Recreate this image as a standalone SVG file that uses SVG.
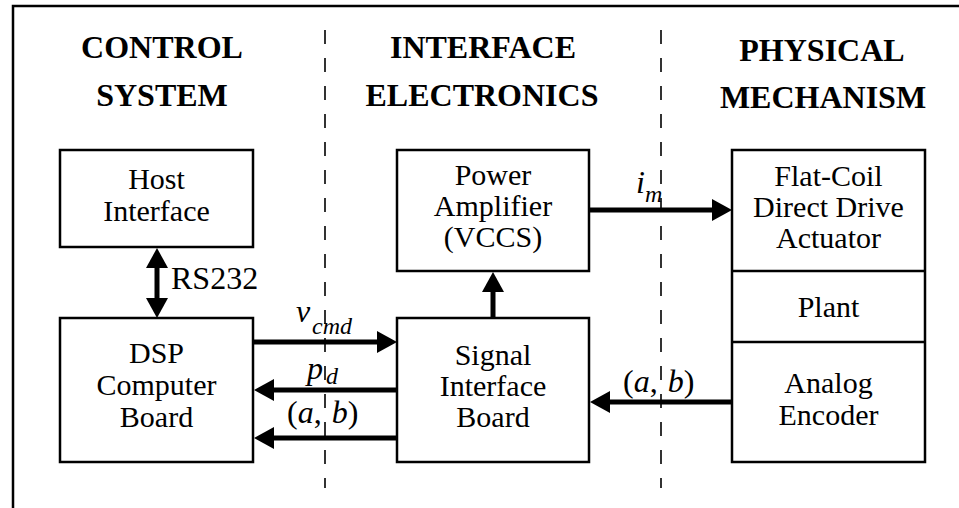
<svg xmlns="http://www.w3.org/2000/svg" width="959" height="508" viewBox="0 0 959 508">
<style>
.box{fill:#fff;stroke:#000;stroke-width:2.5}
.t{font-family:'Liberation Serif','Times New Roman',serif;font-size:30px;fill:#000;text-anchor:middle}
.h{font-family:'Liberation Serif','Times New Roman',serif;font-size:32px;font-weight:bold;fill:#000;text-anchor:middle}
.lbl{font-family:'Liberation Serif','Times New Roman',serif;font-size:32px;fill:#000}
.it{font-style:italic}
.sub{font-family:'Liberation Serif','Times New Roman',serif;font-size:24px;font-style:italic;fill:#000}
.arr{stroke:#000;stroke-width:5;fill:none}
.dash{stroke:#000;stroke-width:1.6;stroke-dasharray:14 14;fill:none}
</style>
<defs>
<marker id="ah" markerUnits="userSpaceOnUse" markerWidth="20" markerHeight="22" refX="0" refY="11" orient="auto-start-reverse" viewBox="0 0 20 22">
<path d="M0,0 L20,11 L0,22 Z" fill="#000"/>
</marker>
</defs>
<rect x="0" y="0" width="959" height="508" fill="#fff"/>
<rect id="frame" x="13" y="6" width="960" height="520" fill="none" stroke="#000" stroke-width="2.5"/>

<g id="headers">
<text class="h" x="162" y="58">CONTROL</text>
<text class="h" x="162" y="106">SYSTEM</text>
<text class="h" x="483" y="58">INTERFACE</text>
<text class="h" x="482" y="106">ELECTRONICS</text>
<text class="h" x="822" y="61">PHYSICAL</text>
<text class="h" x="823" y="108">MECHANISM</text>
</g>

<g id="host">
<rect class="box" x="60" y="150" width="193" height="97"/>
<text class="t" x="156.5" y="189">Host</text>
<text class="t" x="156.5" y="221">Interface</text>
</g>

<g id="dsp">
<rect class="box" x="60" y="318" width="193" height="144"/>
<text class="t" x="156.5" y="363">DSP</text>
<text class="t" x="156.5" y="395">Computer</text>
<text class="t" x="156.5" y="427">Board</text>
</g>

<g id="amp">
<rect class="box" x="397" y="150" width="192" height="121"/>
<text class="t" x="493" y="185">Power</text>
<text class="t" x="493" y="216">Amplifier</text>
<text class="t" x="493" y="247">(VCCS)</text>
</g>

<g id="sib">
<rect class="box" x="397" y="318" width="192" height="144"/>
<text class="t" x="493" y="365">Signal</text>
<text class="t" x="493" y="396">Interface</text>
<text class="t" x="493" y="427">Board</text>
</g>

<g id="mechanism">
<rect class="box" x="732" y="150" width="193" height="312"/>
<line x1="732" y1="271" x2="925" y2="271" stroke="#000" stroke-width="2.5"/>
<line x1="732" y1="342" x2="925" y2="342" stroke="#000" stroke-width="2.5"/>
</g>
<g id="actuator">
<text class="t" x="828.5" y="186">Flat-Coil</text>
<text class="t" x="828.5" y="217">Direct Drive</text>
<text class="t" x="828.5" y="248">Actuator</text>
</g>
<g id="plant">
<text class="t" x="828.5" y="317">Plant</text>
</g>
<g id="encoder">
<text class="t" x="828.5" y="393">Analog</text>
<text class="t" x="828.5" y="425">Encoder</text>
</g>

<g id="connectors">
<line class="arr" x1="157" y1="268" x2="157" y2="298" marker-start="url(#ah)" marker-end="url(#ah)"/>
<line class="arr" x1="254" y1="342" x2="377" y2="342" marker-end="url(#ah)"/>
<line class="arr" x1="396" y1="390" x2="274" y2="390" marker-end="url(#ah)"/>
<line class="arr" x1="396" y1="438" x2="274" y2="438" marker-end="url(#ah)"/>
<line class="arr" x1="493" y1="317" x2="493" y2="292" marker-end="url(#ah)"/>
<line class="arr" x1="590" y1="210" x2="712" y2="210" marker-end="url(#ah)"/>
<line class="arr" x1="731" y1="402" x2="610" y2="402" marker-end="url(#ah)"/>
</g>

<g id="labels">
<text class="lbl" x="171" y="289">RS232</text>
<text class="lbl it" x="296" y="322">v</text>
<text class="sub" x="312" y="334">cmd</text>
<text class="lbl it" x="307" y="379">p</text>
<text class="sub" x="326" y="384">d</text>
<text class="lbl" x="287" y="423">(<tspan class="it">a</tspan>,<tspan class="it" dx="10">b</tspan>)</text>
<text class="lbl it" x="636" y="193">i</text>
<text class="sub" x="645" y="202">m</text>
<text class="lbl" x="623" y="392">(<tspan class="it">a</tspan>,<tspan class="it" dx="10">b</tspan>)</text>
</g>

<g id="dividers">
<line class="dash" x1="325" y1="30" x2="325" y2="488"/>
<line class="dash" x1="661" y1="30" x2="661" y2="488"/>
</g>
</svg>
